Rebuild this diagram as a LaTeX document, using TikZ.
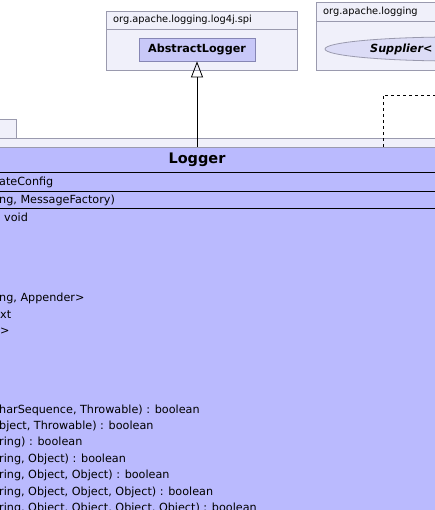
\documentclass[tikz,border=0pt]{standalone}
\usepackage{fontspec}
\setmainfont{DejaVu Sans}
\usetikzlibrary{positioning}
\usetikzlibrary{arrows.meta}
\usetikzlibrary{shapes.geometric}

\definecolor{pkgfill}{HTML}{F0F0FA}
\definecolor{pkgline}{HTML}{9A9AAE}
\definecolor{classfill}{HTML}{BABAFE}
\definecolor{absfill}{HTML}{C8C8F8}
\definecolor{absline}{HTML}{8686B4}
\definecolor{ifacefill}{HTML}{DCDCF6}

\tikzset{
  txt/.style={font=\fontsize{9.8}{11}\selectfont, inner sep=0pt, anchor=west},
  member/.style={font=\fontsize{11.2}{12}\selectfont, inner sep=0pt, anchor=west},
  pkgbox/.style={draw=pkgline, fill=pkgfill, line width=0.8pt},
  classbox/.style={draw=pkgline, fill=classfill, line width=0.8pt, inner sep=0pt},
  inherit/.style={-{Triangle[open, width=12pt, length=16pt]}, line width=0.8pt}
}

\begin{document}
\begin{tikzpicture}[x=1pt, y=-1pt]
  \useasboundingbox (0,0) rectangle (435,510);
  \clip (0,0) rectangle (435,510);

  % package boxes at the top
  \draw[pkgbox] (106,11) rectangle (297,70);
  \draw[pkgline, line width=0.8pt] (106,29) -- (297,29);
  \node[txt] (spiname) at (113,20) {org.apache.logging.log4j.spi};
  \node[draw=absline, fill=absfill, line width=0.8pt, minimum width=116pt, minimum height=23pt,
        font=\fontsize{11.2}{12}\selectfont\bfseries] (abstract) at (197,49.5) {AbstractLogger};

  \draw[pkgbox] (316,2) rectangle (445,70);
  \draw[pkgline, line width=0.8pt] (316,21) -- (445,21);
  \node[txt] (utilname) at (323,12) {org.apache.logging};
  \node[ellipse, draw=pkgline, fill=ifacefill, line width=0.8pt,
        minimum width=260pt, minimum height=24pt] (supplier) at (455,49) {};
  \node[txt, font=\fontsize{11.2}{12}\selectfont\bfseries\itshape] (suppname) at (370,49) {Supplier<};

  % enclosing package and the class
  \draw[pkgbox] (-5,119) rectangle (16,138);
  \draw[pkgbox] (-5,138) rectangle (445,520);
  \node[classbox, minimum width=520pt, minimum height=380pt, anchor=north] (logger) at (197,147) {};
  \node[font=\fontsize{14.5}{15}\selectfont\bfseries] (title) at (197,160) {Logger};
  \draw[line width=1pt] (-5,173) -- (445,173);
  \draw[line width=0.8pt] (-5,191) -- (445,191);
  \draw[line width=0.8pt] (-5,208) -- (445,208);

  % members, cut at the left edge
  \foreach \y/\x/\t in {182/-1/ateConfig, 200/-1/{ng, MessageFactory)}, 217/4/void,
      298/-1/{ng, Appender>}, 315/0/xt, 331/0/>,
      410/-1/{harSequence, Throwable) : boolean}, 426/-1/{bject, Throwable) : boolean},
      442/-1/{ring) : boolean}, 459/-1/{ring, Object) : boolean},
      475/-1/{ring, Object, Object) : boolean}, 492/-1/{ring, Object, Object, Object) : boolean},
      508/-1/{ring, Object, Object, Object, Object) : boolean}}
    {\node[member] at (\x,\y) {\t};}

  % relations
  \coordinate (suppend) at (445,95);
  \draw[inherit] (logger.north) -- (abstract.south);
  \draw[dashed, line width=0.8pt] ([xshift=186pt]logger.north) |- (suppend);
\end{tikzpicture}
\end{document}
